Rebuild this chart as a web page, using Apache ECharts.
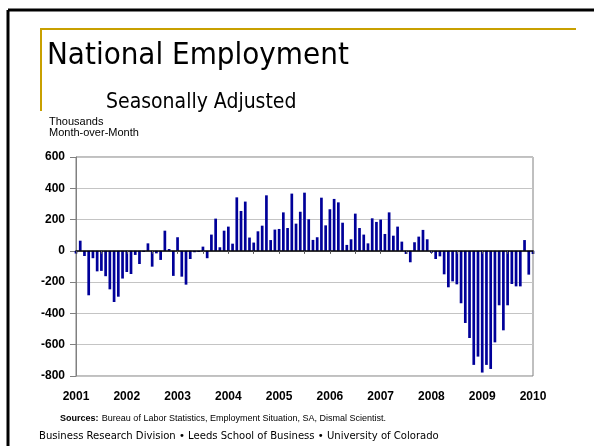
<!DOCTYPE html>
<html><head><meta charset="utf-8">
<script src="https://cdn.jsdelivr.net/npm/echarts@6/dist/echarts.min.js"></script>
<style>html,body{margin:0;padding:0;background:#fff}#c{width:594px;height:446px}</style>
</head><body><div id="c"></div>
<script>
const yearLabels = ['2001','2002','2003','2004','2005','2006','2007','2008','2009','2010'];
const jobs2001 = [-17, 65, -33, -284, -47, -131, -128, -162, -246, -327, -293, -177];
const jobs2002 = [-135, -148, -26, -84, -7, 48, -101, -16, -58, 129, 12, -160];
const jobs2003 = [87, -165, -216, -52, -9, -7, 27, -47, 104, 206, 23, 129];
const jobs2004 = [155, 46, 342, 255, 315, 85, 53, 125, 161, 355, 69, 136];
const jobs2005 = [140, 246, 146, 366, 174, 250, 372, 202, 70, 87, 340, 163];
const jobs2006 = [266, 332, 310, 180, 38, 74, 238, 146, 104, 48, 208, 185];
const jobs2007 = [200, 108, 246, 97, 155, 59, -20, -73, 55, 91, 134, 74];
const jobs2008 = [-13, -52, -35, -150, -233, -195, -214, -335, -461, -557, -729, -676];
const jobs2009 = [-778, -729, -755, -585, -348, -508, -348, -212, -227, -227, 69, -152];
const jobs2010 = [-20];
const yTicks = {min: -800, max: 600, step: 200};

const monthly = [].concat(jobs2001, jobs2002, jobs2003, jobs2004, jobs2005, jobs2006, jobs2007, jobs2008, jobs2009, jobs2010);
const cats = monthly.map((v, i) => yearLabels[Math.floor(i / 12)] + '-' + String(i % 12 + 1).padStart(2, '0'));

const narrow = '"Liberation Sans Narrow", "Arial Narrow", "Liberation Sans", sans-serif';
const slide = '"DejaVu Sans Condensed", "DejaVu Sans", sans-serif';

const chart = echarts.init(document.getElementById('c'), null, {renderer: 'canvas'});
chart.setOption({
  animation: false,
  backgroundColor: '#fff',
  grid: {left: 76, right: 61, top: 157, bottom: 70, show: true, borderColor: '#808080', borderWidth: 1, backgroundColor: 'transparent'},
  xAxis: [
    {
      type: 'category', data: cats, boundaryGap: false, position: 'bottom',
      axisLine: {show: false, onZero: false}, axisTick: {show: false}, splitLine: {show: false},
      axisLabel: {
        interval: (i) => i % 12 === 0,
        formatter: (v) => v.endsWith('-01') ? v.slice(0, 4) : '',
        color: '#000', fontFamily: narrow, fontWeight: 'bold', fontSize: 12, margin: 15,
        showMinLabel: true, showMaxLabel: true
      }
    },
    {
      type: 'category', data: cats, boundaryGap: false, position: 'bottom', z: 5,
      axisLine: {show: true, onZero: true, lineStyle: {color: '#000', width: 1.5}},
      axisTick: {show: true, interval: (i) => i % 6 === 0, length: 3, lineStyle: {color: '#555'}},
      axisLabel: {show: false}, splitLine: {show: false}
    }
  ],
  yAxis: {
    type: 'value', min: yTicks.min, max: yTicks.max, interval: yTicks.step,
    axisLine: {show: true, lineStyle: {color: '#808080'}},
    axisTick: {show: true, length: 6, lineStyle: {color: '#808080'}},
    splitLine: {show: true, lineStyle: {color: '#c4c4c4', width: 1}},
    axisLabel: {color: '#000', fontFamily: narrow, fontWeight: 'bold', fontSize: 12, margin: 11}
  },
  series: [{
    type: 'bar', data: monthly, xAxisIndex: 0, barWidth: 2.7,
    itemStyle: {color: '#000099'}
  }],
  graphic: [
    {type: 'line', shape: {x1: 8, y1: 10, x2: 594, y2: 10}, style: {stroke: '#000', lineWidth: 3}},
    {type: 'line', shape: {x1: 8, y1: 10, x2: 8, y2: 446}, style: {stroke: '#000', lineWidth: 3}},
    {type: 'line', shape: {x1: 40, y1: 29, x2: 576, y2: 29}, style: {stroke: '#C8A000', lineWidth: 2}},
    {type: 'line', shape: {x1: 41, y1: 28, x2: 41, y2: 111}, style: {stroke: '#C8A000', lineWidth: 2}},
    {type: 'text', x: 47, y: 40, style: {text: 'National Employment', font: '31px ' + slide, fill: '#000', verticalAlign: 'top'}},
    {type: 'text', x: 106, y: 92, style: {text: 'Seasonally Adjusted', font: '21px ' + slide, fill: '#000', verticalAlign: 'top'}},
    {type: 'text', x: 49, y: 116, style: {text: 'Thousands', font: '11px ' + narrow, fill: '#000', verticalAlign: 'top'}},
    {type: 'text', x: 49, y: 127, style: {text: 'Month-over-Month', font: '11px ' + narrow, fill: '#000', verticalAlign: 'top'}},
    {type: 'text', x: 60, y: 413, style: {rich: {b: {font: 'bold 9px ' + narrow, fill: '#000'}, r: {font: '9px ' + narrow, fill: '#000'}}, text: '{b|Sources:} {r|Bureau of Labor Statistics, Employment Situation, SA, Dismal Scientist.}', verticalAlign: 'top'}},
    {type: 'text', x: 39, y: 431, style: {text: 'Business Research Division \u2022 Leeds School of Business \u2022 University of Colorado', font: '11.2px ' + slide, fill: '#000', verticalAlign: 'top'}}
  ]
});
</script>
</body></html>
